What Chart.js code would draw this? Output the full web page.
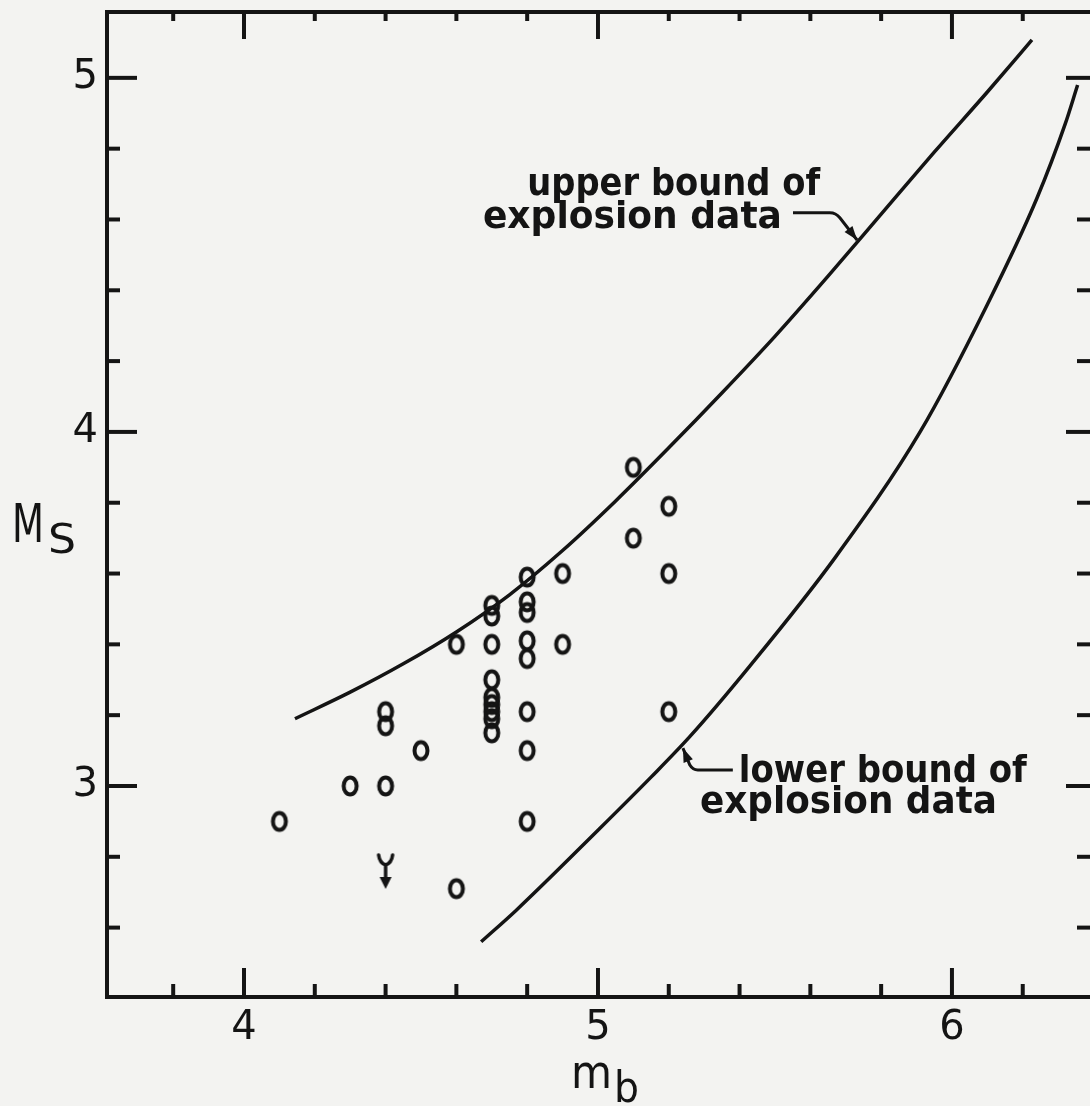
<!DOCTYPE html>
<html>
<head>
<meta charset="utf-8">
<title>Ms vs mb</title>
<script src="https://cdn.jsdelivr.net/npm/chart.js@4.4.1/dist/chart.umd.min.js"></script>
<style>
  html, body { margin: 0; padding: 0; background: #f3f3f1; }
  canvas { display: block; }
</style>
</head>
<body>
<canvas id="c" width="1090" height="1106"></canvas>
<script>
// axis ranges and ticks
const X_MIN = 3.613, X_MAX = 6.39;
const Y_MIN = 2.404, Y_MAX = 5.186;
const X_MAJOR = [4, 5, 6];
const X_MINOR = [3.8, 4.2, 4.4, 4.6, 4.8, 5.2, 5.4, 5.6, 5.8, 6.2];
const Y_MAJOR = [3, 4, 5];
const Y_MINOR = [2.6, 2.8, 3.2, 3.4, 3.6, 3.8, 4.2, 4.4, 4.6, 4.8];

// events (open circles)
const EV_MB = [4.1, 4.3, 4.4, 4.4, 4.4, 4.5, 4.6, 4.6,
  4.7, 4.7, 4.7, 4.7, 4.7, 4.7, 4.7, 4.7, 4.7,
  4.8, 4.8, 4.8, 4.8, 4.8, 4.8, 4.8, 4.8,
  4.9, 4.9, 5.1, 5.1, 5.2, 5.2, 5.2];
const EV_MS = [2.90, 3.00, 3.00, 3.17, 3.21, 3.10, 2.71, 3.40,
  3.15, 3.19, 3.21, 3.23, 3.25, 3.30, 3.40, 3.48, 3.51,
  2.90, 3.10, 3.21, 3.36, 3.41, 3.49, 3.52, 3.59,
  3.40, 3.60, 3.70, 3.90, 3.21, 3.60, 3.79];

// upper limit (arrow)
const LIM_MB = [4.4];
const LIM_MS = [2.76];

// bounds of explosion data
const UP_MB = [4.144, 4.30, 4.45, 4.60, 4.75, 4.90, 5.05, 5.20, 5.35, 5.50, 5.65, 5.80, 5.95, 6.10, 6.226];
const UP_MS = [3.19, 3.265, 3.345, 3.435, 3.54, 3.665, 3.805, 3.955, 4.11, 4.27, 4.44, 4.615, 4.79, 4.96, 5.107];
const LO_MB = [4.67, 4.77, 5.00, 5.15, 5.26, 5.43, 5.67, 5.91, 6.10, 6.24, 6.32, 6.355];
const LO_MS = [2.56, 2.65, 2.875, 3.025, 3.14, 3.34, 3.645, 4.00, 4.36, 4.66, 4.87, 4.98];

const INK = "#141414";
const FONT = "'DejaVu Sans', sans-serif";

function pairs(xs, ys) { return xs.map((x, i) => ({ x, y: ys[i] })); }

function ringMark() {
  const c = document.createElement("canvas");
  c.width = 22; c.height = 26;
  const g = c.getContext("2d");
  g.strokeStyle = INK; g.lineWidth = 4;
  g.beginPath(); g.ellipse(11, 13, 6.5, 8.4, 0, 0, Math.PI * 2); g.stroke();
  return c;
}

function limitMark() {
  const c = document.createElement("canvas");
  c.width = 24; c.height = 38;
  const g = c.getContext("2d");
  g.strokeStyle = INK; g.fillStyle = INK; g.lineWidth = 3.5; g.lineCap = "round";
  g.beginPath();
  g.moveTo(5, 3); g.quadraticCurveTo(6, 11, 12, 13);
  g.moveTo(19, 3); g.quadraticCurveTo(18, 11, 12, 13);
  g.lineTo(12, 28);
  g.stroke();
  g.beginPath(); g.moveTo(6, 25); g.lineTo(18, 25); g.lineTo(12, 37); g.closePath(); g.fill();
  return c;
}

function fitText(ctx, str, x, y, w) {
  const m = ctx.measureText(str).width;
  ctx.save();
  ctx.translate(x, y);
  ctx.scale(w / m, 1);
  ctx.fillText(str, 0, 0);
  ctx.restore();
}

function arrowHead(ctx, fx, fy, tx, ty) {
  const a = Math.atan2(ty - fy, tx - fx);
  ctx.beginPath();
  ctx.moveTo(tx, ty);
  ctx.lineTo(tx - 14 * Math.cos(a) + 5 * Math.sin(a), ty - 14 * Math.sin(a) - 5 * Math.cos(a));
  ctx.lineTo(tx - 14 * Math.cos(a) - 5 * Math.sin(a), ty - 14 * Math.sin(a) + 5 * Math.cos(a));
  ctx.closePath();
  ctx.fill();
}

// inward ticks, labels and leaders
const decor = {
  id: "decor",
  afterDraw(chart) {
    const { ctx, chartArea: a, scales: { x, y } } = chart;
    ctx.save();
    ctx.strokeStyle = INK; ctx.fillStyle = INK; ctx.lineWidth = 4; ctx.lineCap = "butt";

    const tick = (x1, y1, x2, y2) => { ctx.beginPath(); ctx.moveTo(x1, y1); ctx.lineTo(x2, y2); ctx.stroke(); };
    X_MAJOR.forEach(v => { const p = x.getPixelForValue(v); tick(p, a.bottom, p, a.bottom - 29); tick(p, a.top, p, a.top + 27); });
    X_MINOR.forEach(v => { const p = x.getPixelForValue(v); tick(p, a.bottom, p, a.bottom - 13); tick(p, a.top, p, a.top + 9); });
    Y_MAJOR.forEach(v => { const p = y.getPixelForValue(v); tick(a.left, p, a.left + 30, p); tick(a.right, p, a.right - 24, p); });
    Y_MINOR.forEach(v => { const p = y.getPixelForValue(v); tick(a.left, p, a.left + 13, p); tick(a.right, p, a.right - 13, p); });

    // leaders
    ctx.lineWidth = 3;
    const P = (mx, ms) => [x.getPixelForValue(mx), y.getPixelForValue(ms)];
    let s = P(5.551, 4.619), k = P(5.672, 4.619), t = P(5.732, 4.542);
    ctx.beginPath(); ctx.moveTo(...s); ctx.lineTo(k[0] - 6, k[1]); ctx.quadraticCurveTo(k[0], k[1], k[0] + 4, k[1] + 5); ctx.lineTo(...t); ctx.stroke();
    arrowHead(ctx, k[0] + 4, k[1] + 5, t[0], t[1]);
    s = P(5.381, 3.045); k = P(5.268, 3.045); t = P(5.240, 3.107);
    ctx.beginPath(); ctx.moveTo(...s); ctx.lineTo(k[0] + 5, k[1]); ctx.quadraticCurveTo(k[0], k[1], k[0] - 3, k[1] - 5); ctx.lineTo(...t); ctx.stroke();
    arrowHead(ctx, k[0] - 3, k[1] - 5, t[0], t[1]);

    // curve labels
    ctx.font = "bold 38px " + FONT;
    ctx.textBaseline = "alphabetic";
    fitText(ctx, "upper bound of", ...P(4.80, 4.669), 293);
    fitText(ctx, "explosion data", ...P(4.675, 4.576), 299);
    fitText(ctx, "lower bound of", ...P(5.398, 3.011), 288);
    fitText(ctx, "explosion data", ...P(5.288, 2.924), 297);

    // axis titles
    ctx.font = "54px " + FONT;
    fitText(ctx, "M", 12, 542, 32);
    ctx.font = "41px " + FONT;
    fitText(ctx, "S", 48, 553, 28);
    ctx.font = "46px " + FONT;
    fitText(ctx, "m", 571, 1088, 41);
    ctx.font = "42px " + FONT;
    fitText(ctx, "b", 614, 1102, 25);
    ctx.restore();
  }
};

const majorOnly = sc => { sc.ticks = sc.id === "y" ? Y_MAJOR.map(value => ({ value })) : X_MAJOR.map(value => ({ value })); };
const noPad = sc => { sc.paddingTop = 0; sc.paddingBottom = 0; sc.paddingLeft = 0; sc.paddingRight = 0; };

new Chart(document.getElementById("c"), {
  type: "scatter",
  data: {
    datasets: [
      { data: pairs(UP_MB, UP_MS), showLine: true, borderColor: INK, borderWidth: 3.5, pointRadius: 0, cubicInterpolationMode: "monotone" },
      { data: pairs(LO_MB, LO_MS), showLine: true, borderColor: INK, borderWidth: 3.5, pointRadius: 0, cubicInterpolationMode: "monotone" },
      { data: pairs(EV_MB, EV_MS), pointStyle: ringMark(), pointRadius: 10 },
      { data: pairs(LIM_MB, LIM_MS), pointStyle: limitMark(), pointRadius: 12 }
    ]
  },
  options: {
    responsive: false,
    devicePixelRatio: 1,
    animation: false,
    events: [],
    layout: { padding: 0, autoPadding: false },
    plugins: { legend: { display: false }, tooltip: { enabled: false } },
    scales: {
      x: {
        type: "linear", position: "bottom", min: X_MIN, max: X_MAX,
        afterBuildTicks: majorOnly,
        afterFit: sc => { sc.height = 109; noPad(sc); },
        grid: { drawOnChartArea: false, drawTicks: false },
        border: { color: INK, width: 4 },
        ticks: { color: INK, padding: 8, font: { family: FONT, size: 40 } }
      },
      x2: {
        type: "linear", axis: "x", position: "top", min: X_MIN, max: X_MAX,
        afterFit: sc => { sc.height = 12; noPad(sc); },
        grid: { drawOnChartArea: false, drawTicks: false },
        border: { color: INK, width: 4 },
        ticks: { display: false }
      },
      y: {
        type: "linear", position: "left", min: Y_MIN, max: Y_MAX,
        afterBuildTicks: majorOnly,
        afterFit: sc => { sc.width = 107; noPad(sc); },
        grid: { drawOnChartArea: false, drawTicks: false },
        border: { color: INK, width: 4 },
        ticks: { color: INK, padding: 9, font: { family: FONT, size: 40 } }
      }
    }
  },
  plugins: [decor]
});
</script>
</body>
</html>
